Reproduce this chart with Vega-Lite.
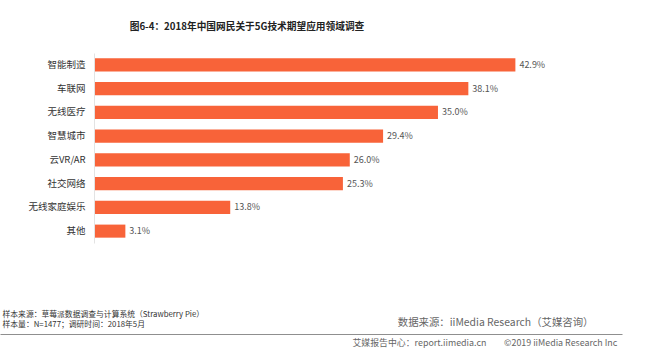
{
  "$schema": "https://vega.github.io/schema/vega-lite/v6.json",
  "autosize": {"type": "none"},
  "padding": {"left": 0, "top": 53, "right": 28, "bottom": 113},
  "width": 622,
  "height": 190,
  "background": "white",
  "config": {
    "font": "Noto Sans CJK SC",
    "view": {"stroke": null}
  },
  "title": {
    "text": "图6-4：2018年中国网民关于5G技术期望应用领域调查",
    "anchor": "middle",
    "frame": "group",
    "dx": -64,
    "offset": 21,
    "fontSize": 9.7,
    "fontWeight": "bold",
    "color": "#222222",
    "font": "Noto Sans CJK SC"
  },
  "data": {
    "values": [
      {"domain": "智能制造", "share": 0.429},
      {"domain": "车联网", "share": 0.381},
      {"domain": "无线医疗", "share": 0.350},
      {"domain": "智慧城市", "share": 0.294},
      {"domain": "云VR/AR", "share": 0.260},
      {"domain": "社交网络", "share": 0.253},
      {"domain": "无线家庭娱乐", "share": 0.138},
      {"domain": "其他", "share": 0.031}
    ]
  },
  "encoding": {
    "y": {
      "field": "domain",
      "type": "nominal",
      "sort": null,
      "scale": {"paddingInner": 0.45, "paddingOuter": 0.225},
      "axis": {
        "orient": "left",
        "offset": -94,
        "domain": true,
        "domainColor": "#e3e3e3",
        "ticks": false,
        "grid": false,
        "labelPadding": 9,
        "labelFontSize": 9.5,
        "labelColor": "#333333",
        "labelFont": "Noto Sans CJK SC",
        "title": ["样本来源：草莓派数据调查与计算系统（Strawberry Pie）", "样本量：N=1477；调研时间：2018年5月"],
        "titleAngle": 0,
        "titleAlign": "left",
        "titleBaseline": "top",
        "titleX": -92,
        "titleY": 257,
        "titleFontSize": 7.8,
        "titleLineHeight": 10.5,
        "titleFontWeight": "normal",
        "titleColor": "#333333",
        "titleFont": "Noto Sans CJK SC"
      }
    },
    "x": {
      "field": "share",
      "type": "quantitative",
      "scale": {"domain": [-0.09694, 0.5378], "nice": false, "zero": false}
    }
  },
  "layer": [
    {
      "mark": {"type": "bar", "color": "#f86339"},
      "encoding": {
        "x": {
          "field": "share",
          "type": "quantitative",
          "axis": {
            "orient": "bottom",
            "offset": 91,
            "domain": true,
            "domainColor": "#8f8f8f",
            "domainWidth": 1,
            "labels": false,
            "ticks": false,
            "grid": false,
            "title": "数据来源：iiMedia Research（艾媒咨询）",
            "titleAlign": "right",
            "titleAnchor": null,
            "titleX": 593,
            "titleY": -12,
            "titleBaseline": "middle",
            "titleFontSize": 10.4,
            "titleFontWeight": "normal",
            "titleColor": "#666666",
            "titleFont": "Noto Sans CJK SC"
          }
        }
      }
    },
    {
      "mark": {"type": "text", "align": "left", "baseline": "middle", "dx": 4, "fontSize": 9, "color": "#555555"},
      "encoding": {
        "text": {"field": "share", "type": "quantitative", "format": ".1%"},
        "x": {
          "field": "share",
          "type": "quantitative",
          "axis": {
            "orient": "top",
            "domain": false,
            "labels": false,
            "ticks": false,
            "grid": false,
            "title": "艾媒报告中心：report.iimedia.cn　　©2019  iiMedia Research Inc",
            "titleAlign": "left",
            "titleAnchor": null,
            "titleX": 352,
            "titleY": 289,
            "titleBaseline": "middle",
            "titleFontSize": 8.9,
            "titleFontWeight": "normal",
            "titleColor": "#666666",
            "titleFont": "Noto Sans CJK SC"
          }
        }
      }
    }
  ],
  "resolve": {"axis": {"x": "independent"}}
}
